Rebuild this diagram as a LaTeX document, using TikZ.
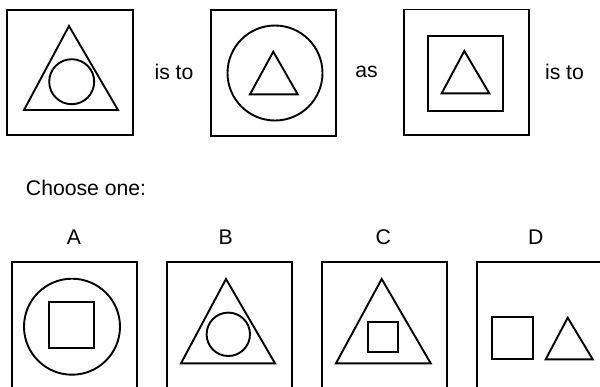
\documentclass[tikz,border=0pt]{standalone}
\usepackage{fontspec}
\setmainfont{Liberation Sans}

\begin{document}
\begin{tikzpicture}[x=0.5pt,y=-0.5pt,line width=0.95pt,
  word/.style={font=\fontsize{10.6}{12.7}\selectfont, inner sep=0pt}]
\clip (0,0) rectangle (600,386);
\fill[white] (0,0) rectangle (600,386);

% top row
\draw (7,10) rectangle (133,135);
\draw (69,26) -- (24,110) -- (118,110) -- cycle;
\draw (71.7,81.7) circle (22.5);
\node[word] (isto) at (174,72) {is to};

\draw (211,10) rectangle (336,136);
\draw (275,73) circle (47.5);
\draw (273.3,51.7) -- (250,94.3) -- (297.7,94.3) -- cycle;
\node[word] (as) at (366.5,72) {as};

\draw (404,9.5) rectangle (529.3,135);
\draw (427.7,36) rectangle (502.7,111);
\draw (464.3,51) -- (441.7,93.3) -- (489.3,93.3) -- cycle;
\node[word] (isto2) at (564.5,72) {is to};

\node[word, anchor=west] (choose) at (25,188) {Choose one:};

% options
\node[word] (optA) at (74,237) {A};
\draw (11.7,262.3) rectangle (136.7,400);
\draw (72,326.7) circle (48);
\draw (49.3,302.3) rectangle (94.3,348.3);

\node[word] (optB) at (225.7,237) {B};
\draw (166.7,262.3) rectangle (292.3,400);
\draw (226,279) -- (181,363.3) -- (275,363.3) -- cycle;
\draw (228.3,334.3) circle (21.7);

\node[word] (optC) at (383.3,237) {C};
\draw (322.3,262.3) rectangle (446.7,400);
\draw (381.7,279) -- (336,363.3) -- (430.7,363.3) -- cycle;
\draw (368.3,321.7) rectangle (398.3,351.7);

\node[word] (optD) at (535.7,237) {D};
\draw (477.3,261.7) rectangle (610,400);
\draw (491.7,316.7) rectangle (532.7,358.7);
\draw (567.7,317.7) -- (545.7,359.3) -- (592.7,359.3) -- cycle;
\end{tikzpicture}
\end{document}
